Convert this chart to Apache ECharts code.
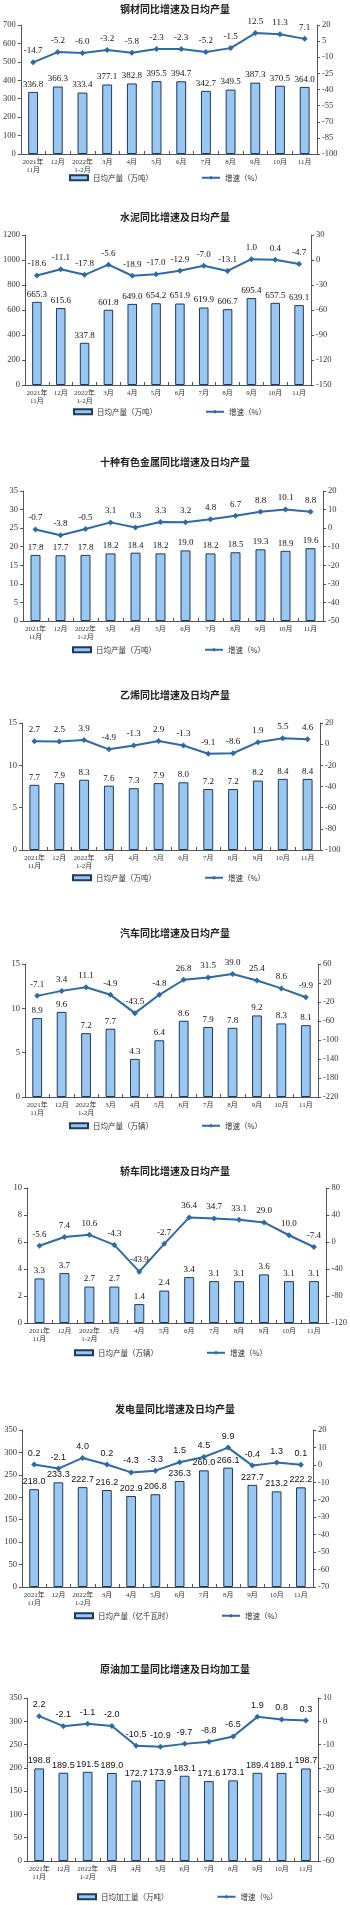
<!DOCTYPE html>
<html><head><meta charset="utf-8">
<script src="https://cdn.jsdelivr.net/npm/echarts@6/dist/echarts.min.js"></script>
<style>html,body{margin:0;padding:0;background:#fff}#c{width:350px;height:1905px}</style>
</head><body><div id="c"></div>
<script>
const categories = ['2021年\n11月','12月','2022年\n1-2月','3月','4月','5月','6月','7月','8月','9月','10月','11月'];
const titles = ['钢材同比增速及日均产量','水泥同比增速及日均产量','十种有色金属同比增速及日均产量','乙烯同比增速及日均产量','汽车同比增速及日均产量','轿车同比增速及日均产量','发电量同比增速及日均产量','原油加工量同比增速及日均加工量'];
const barNames = ['日均产量（万吨）','日均产量（万吨）','日均产量（万吨）','日均产量（万吨）','日均产量（万辆）','日均产量（万辆）','日均产量（亿千瓦时）','日均加工量（万吨）'];
const lineName = '增速（%）';

const steelOutput = [336.8,366.3,333.4,377.1,382.8,395.5,394.7,342.7,349.5,387.3,370.5,364.0];
const steelGrowth = [-14.7,-5.2,-6.0,-3.2,-5.8,-2.3,-2.3,-5.2,-1.5,12.5,11.3,7.1];
const cementOutput = [665.3,615.6,337.8,601.8,649.0,654.2,651.9,619.9,606.7,695.4,657.5,639.1];
const cementGrowth = [-18.6,-11.1,-17.8,-5.6,-18.9,-17.0,-12.9,-7.0,-13.1,1.0,0.4,-4.7];
const metalsOutput = [17.8,17.7,17.8,18.2,18.4,18.2,19.0,18.2,18.5,19.3,18.9,19.6];
const metalsGrowth = [-0.7,-3.8,-0.5,3.1,0.3,3.3,3.2,4.8,6.7,8.8,10.1,8.8];
const ethyleneOutput = [7.7,7.9,8.3,7.6,7.3,7.9,8.0,7.2,7.2,8.2,8.4,8.4];
const ethyleneGrowth = [2.7,2.5,3.9,-4.9,-1.3,2.9,-1.3,-9.1,-8.6,1.9,5.5,4.6];
const autoOutput = [8.9,9.6,7.2,7.7,4.3,6.4,8.6,7.9,7.8,9.2,8.3,8.1];
const autoGrowth = [-7.1,3.4,11.1,-4.9,-43.5,-4.8,26.8,31.5,39.0,25.4,8.6,-9.9];
const carOutput = [3.3,3.7,2.7,2.7,1.4,2.4,3.4,3.1,3.1,3.6,3.1,3.1];
const carGrowth = [-5.6,7.4,10.6,-4.3,-43.9,-2.7,36.4,34.7,33.1,29.0,10.0,-7.4];
const powerOutput = [218.0,233.3,222.7,216.2,202.9,206.8,236.3,260.0,266.1,227.7,213.2,222.2];
const powerGrowth = [0.2,-2.1,4.0,0.2,-4.3,-3.3,1.5,4.5,9.9,-0.4,1.3,0.1];
const crudeOutput = [198.8,189.5,191.5,189.0,172.7,173.9,183.1,171.6,173.1,189.4,189.1,198.7];
const crudeGrowth = [2.2,-2.1,-1.1,-2.0,-10.5,-10.9,-9.7,-8.8,-6.5,1.9,0.8,0.3];

// left axis [min,max,interval], right axis [min,max,interval]
const leftAxes = [[0,700,100],[0,1200,200],[0,35,5],[0,15,5],[0,15,5],[0,10,2],[0,350,50],[0,350,50]];
const rightAxes = [[-100,20,15],[-150,30,30],[-50,20,10],[-100,20,20],[-220,60,40],[-120,80,40],[-70,20,10],[-60,10,10]];

const outputs = [steelOutput,cementOutput,metalsOutput,ethyleneOutput,autoOutput,carOutput,powerOutput,crudeOutput];
const growths = [steelGrowth,cementGrowth,metalsGrowth,ethyleneGrowth,autoGrowth,carGrowth,powerGrowth,crudeGrowth];

// layout: title y, plot top, plot bottom, left x, right x, legend y, legend left
const layout = [
  [10,25,154,19,317,179,69],
  [218,235,385,23,311,413,73],
  [463,491,621,23,323,651,72],
  [696,723,850,22,320,879,72],
  [934,964,1097,25,318,1127,69],
  [1172,1188,1323,27,328,1354,74],
  [1410,1430,1587,22,313,1617,74],
  [1670,1698,1861,27,318,1898,77]
];

const SERIF = "'Liberation Serif','Noto Sans CJK SC',serif";
const SANS = "'Liberation Sans','Noto Sans CJK SC',sans-serif";
const CJK = "'Noto Sans CJK SC',sans-serif";
const axisColor = '#555';
const barFill = '#99c7f2';
const barBorder = '#1d3a60';
const lineColor = '#2e6aa6';

const option = {animation:false, backgroundColor:'#fff', title:[], legend:[], grid:[], xAxis:[], yAxis:[], series:[]};

layout.forEach((L,i)=>{
  const [ty,top,bottom,lx,rx,ly,ll] = L;
  const labelFont = i>=6 ? SANS : SERIF;
  option.title.push({text:titles[i], left:'center', top:ty-6, padding:0, textStyle:{fontSize:10, fontWeight:'bold', fontFamily:CJK, color:'#222'}});
  option.grid.push({left:lx, right:350-rx, top:top, height:bottom-top});
  option.legend.push({
    left:ll, top:ly-5, padding:0, itemWidth:18, itemHeight:5, itemGap:48,
    textStyle:{fontSize:7.5, fontFamily:CJK, color:'#333'},
    data:[{name:barNames[i], icon:'rect'},{name:lineName}],
    selectedMode:false
  });
  option.xAxis.push({
    type:'category', gridIndex:i, data:categories,
    axisLine:{lineStyle:{color:axisColor, width:1}},
    axisTick:{show:true, inside:true, length:3, lineStyle:{color:axisColor}},
    axisLabel:{interval:0, fontSize:7, lineHeight:8, margin:4, fontFamily:SERIF, color:'#333'}
  });
  const la = leftAxes[i], ra = rightAxes[i];
  option.yAxis.push({
    type:'value', gridIndex:i, position:'left', min:la[0], max:la[1], interval:la[2],
    axisLine:{show:true, lineStyle:{color:axisColor}},
    axisTick:{show:true, length:3, lineStyle:{color:axisColor}},
    splitLine:{show:false},
    axisLabel:{fontSize:8.5, fontFamily:SERIF, color:'#333', margin:5, formatter:v=>String(v)}
  });
  option.yAxis.push({
    type:'value', gridIndex:i, position:'right', min:ra[0], max:ra[1], interval:ra[2],
    axisLine:{show:true, lineStyle:{color:axisColor}},
    axisTick:{show:true, length:3, lineStyle:{color:axisColor}},
    splitLine:{show:false},
    axisLabel:{fontSize:8.5, fontFamily:SERIF, color:'#333', margin:5, formatter:v=>String(v)}
  });
  option.series.push({
    type:'bar', name:barNames[i], xAxisIndex:i, yAxisIndex:2*i, data:outputs[i],
    barWidth:'40%',
    itemStyle:{color:barFill, borderColor:barBorder, borderWidth:1},
    label:{show:true, position:'top', distance:3, fontSize:9, fontFamily:labelFont, color:'#111', formatter:p=>p.value.toFixed(1)}
  });
  option.series.push({
    type:'line', name:lineName, xAxisIndex:i, yAxisIndex:2*i+1, data:growths[i],
    symbol:'diamond', symbolSize:6, lineStyle:{color:lineColor, width:2}, itemStyle:{color:lineColor},
    label:{show:true, position:'top', distance:4, fontSize:9, fontFamily:labelFont, color:'#111', formatter:p=>p.value.toFixed(1)},
    z:5
  });
});

const chart = echarts.init(document.getElementById('c'), null, {renderer:'canvas', width:350, height:1905});
chart.setOption(option);
</script>
</body></html>
